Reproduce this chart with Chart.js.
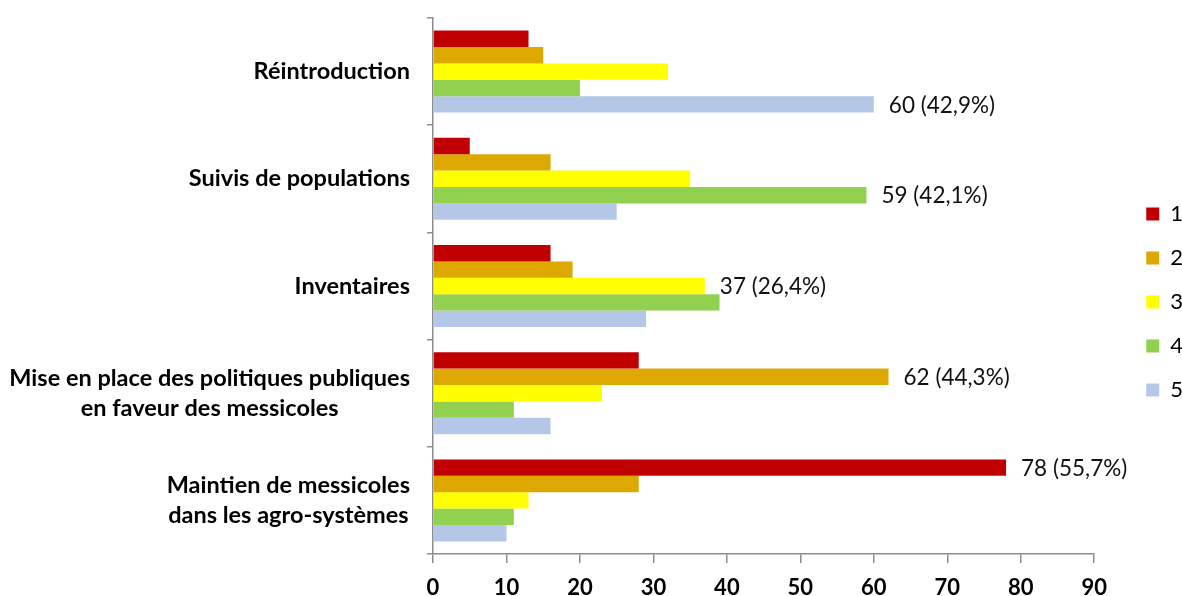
<!DOCTYPE html>
<html>
<head>
<meta charset="utf-8">
<script src="https://cdn.jsdelivr.net/npm/chart.js@4.4.1/dist/chart.umd.min.js"></script>
<style>
  html, body { margin: 0; padding: 0; background: #fff; }
  #wrap { width: 1182px; height: 596px; }
</style>
</head>
<body>
<div id="wrap"><canvas id="chart" width="1182" height="596"></canvas></div>
<script>
// Categories (top to bottom) and their label lines
const categories = [
    ['Réintroduction'],
    ['Suivis de populations'],
    ['Inventaires'],
    ['Mise en place des politiques publiques', 'en faveur des messicoles'],
    ['Maintien de messicoles', 'dans les agro-systèmes']
];

// Series values, one per category
const series1 = [13, 5, 16, 28, 78];
const series2 = [15, 16, 19, 62, 28];
const series3 = [32, 35, 37, 23, 13];
const series4 = [20, 59, 39, 11, 11];
const series5 = [60, 25, 29, 16, 10];

const seriesNames = ['1', '2', '3', '4', '5'];
const seriesColors = ['#C00000', '#DDA800', '#FFFF00', '#92D050', '#B4C7E7'];

// Which series gets the value label in each category, and the total of respondents
const labelSeries = [4, 3, 2, 1, 0];
const total = 140;

const xTicks = [0, 10, 20, 30, 40, 50, 60, 70, 80, 90];

const FONT = 'Lato, "Open Sans", sans-serif';

// Category labels: right-aligned block, lines centred within it
const categoryLabels = {
    id: 'categoryLabels',
    afterDraw(chart) {
        const { ctx } = chart;
        const y = chart.scales.y;
        ctx.save();
        ctx.font = 'bold 23.5px ' + FONT;
        ctx.fillStyle = '#000';
        ctx.textAlign = 'center';
        ctx.textBaseline = 'middle';
        const right = chart.chartArea.left - 23;
        categories.forEach((lines, i) => {
            const cy = y.getPixelForTick(i);
            const w = Math.max(...lines.map(l => ctx.measureText(l).width));
            const cx = right - w / 2;
            const lh = 30;
            lines.forEach((l, k) => {
                ctx.fillText(l, cx, cy - (lines.length - 1) * lh / 2 + k * lh);
            });
        });
        ctx.restore();
    }
};

// Value + percentage label next to the longest bar
const valueLabels = {
    id: 'valueLabels',
    afterDatasetsDraw(chart) {
        const { ctx } = chart;
        ctx.save();
        ctx.font = '22.5px ' + FONT;
        ctx.fillStyle = '#111';
        ctx.textAlign = 'left';
        ctx.textBaseline = 'middle';
        labelSeries.forEach((s, i) => {
            const bar = chart.getDatasetMeta(s).data[i];
            const v = chart.data.datasets[s].data[i];
            const pct = (v / total * 100).toFixed(1).replace('.', ',');
            ctx.fillText(v + ' (' + pct + '%)', bar.x + 15, bar.y + 1);
        });
        ctx.restore();
    }
};

// Push the legend a bit away from the plot, as in the original
const legendShift = {
    id: 'legendShift',
    afterLayout(chart) {
        const lg = chart.legend;
        lg.left += 30; lg.right += 30;
        lg.top -= 5; lg.bottom -= 5;
    }
};

const allSeries = [series1, series2, series3, series4, series5];

new Chart(document.getElementById('chart'), {
    type: 'bar',
    data: {
        labels: categories.map(c => c.join(' ')),
        datasets: allSeries.map((d, i) => ({
            label: seriesNames[i],
            data: d,
            backgroundColor: seriesColors[i],
            borderWidth: 0,
            categoryPercentage: 0.765,
            barPercentage: 1
        }))
    },
    options: {
        indexAxis: 'y',
        responsive: false,
        animation: false,
        layout: { padding: { top: 18, right: 19, bottom: 0, left: 0 } },
        scales: {
            x: {
                min: 0,
                max: 90,
                afterBuildTicks(scale) { scale.ticks = xTicks.map(v => ({ value: v })); },
                border: { color: '#8c8c8c', width: 1.5 },
                grid: { drawOnChartArea: false, tickLength: 9, color: '#8c8c8c', lineWidth: 1.5 },
                ticks: { color: '#000', font: { family: FONT, size: 22, weight: 'bold' }, padding: 12 },
                afterFit(scale) { scale.height = 42; }
            },
            y: {
                border: { color: '#8c8c8c', width: 1.5 },
                grid: { drawOnChartArea: false, tickLength: 6, color: '#8c8c8c', lineWidth: 1.5, offset: true },
                ticks: { display: false },
                afterFit(scale) { scale.width = 433; }
            }
        },
        plugins: {
            legend: {
                position: 'right',
                labels: {
                    boxWidth: 13,
                    boxHeight: 13,
                    padding: 22,
                    color: '#000',
                    font: { family: FONT, size: 22 }
                }
            },
            tooltip: { enabled: false }
        }
    },
    plugins: [categoryLabels, valueLabels, legendShift]
});
</script>
</body>
</html>
